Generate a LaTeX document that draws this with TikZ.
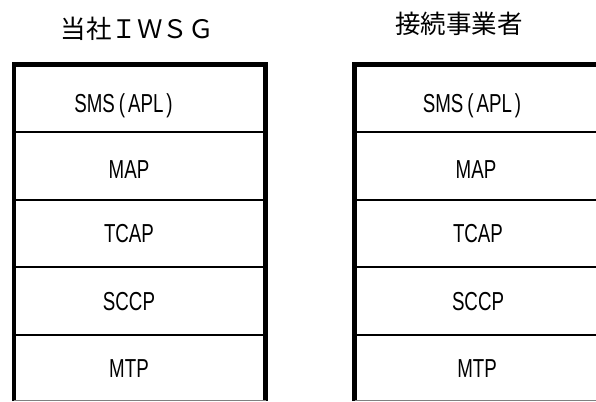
\documentclass[tikz,border=0pt]{standalone}
\usepackage{fontspec}
\newfontfamily\cjkfont{Noto Sans CJK JP}
\newfontfamily\layerfont[FakeStretch=0.72]{Liberation Sans}
\tikzset{
  stacktitle/.style={font=\cjkfont\fontsize{25.5}{25.5}\selectfont, anchor=center, inner sep=0pt},
  layer/.style={font=\layerfont\fontsize{26}{26}\selectfont, anchor=base, inner sep=0pt},
  frame/.style={line width=4.5pt},
  divider/.style={line width=2pt},
  baseline/.style={line width=1pt, gray}
}
\newcommand{\smsapl}{SMS\hspace{4pt}(\hspace{3pt}APL\hspace{3pt})}

\begin{document}
\begin{tikzpicture}[x=1pt, y=-1pt]
  \useasboundingbox (0,0) rectangle (596,401);

  % titles
  \node[stacktitle] (owntitle) at (137,29) {当社ＩＷＳＧ};
  \node[stacktitle] (peertitle) at (459,24) {接続事業者};

  % own IWSG stack
  \draw[frame] (14,401) -- (14,64.5) -- (265.5,64.5) -- (265.5,401);
  \draw[divider] (14,132) -- (265.5,132);
  \draw[divider] (14,199.5) -- (265.5,199.5);
  \draw[divider] (14,267) -- (265.5,267);
  \draw[divider] (14,335) -- (265.5,335);
  \draw[baseline] (14,400.5) -- (265.5,400.5);

  \node[layer] (ownsms) at (123.5,113) {\smsapl};
  \node[layer] (ownmap) at (129,178) {MAP};
  \node[layer] (owntcap) at (129,242) {TCAP};
  \node[layer] (ownsccp) at (129,310) {SCCP};
  \node[layer] (ownmtp) at (129,377) {MTP};

  % peer carrier stack
  \draw[frame] (354.5,401) -- (354.5,64.5) -- (600,64.5);
  \draw[divider] (354.5,132) -- (600,132);
  \draw[divider] (354.5,199.5) -- (600,199.5);
  \draw[divider] (354.5,267) -- (600,267);
  \draw[divider] (354.5,335) -- (600,335);
  \draw[baseline] (354.5,400.5) -- (600,400.5);

  \node[layer] (peersms) at (472,113) {\smsapl};
  \node[layer] (peermap) at (476,178) {MAP};
  \node[layer] (peertcap) at (478,242) {TCAP};
  \node[layer] (peersccp) at (478,310) {SCCP};
  \node[layer] (peermtp) at (477,377) {MTP};
\end{tikzpicture}
\end{document}
